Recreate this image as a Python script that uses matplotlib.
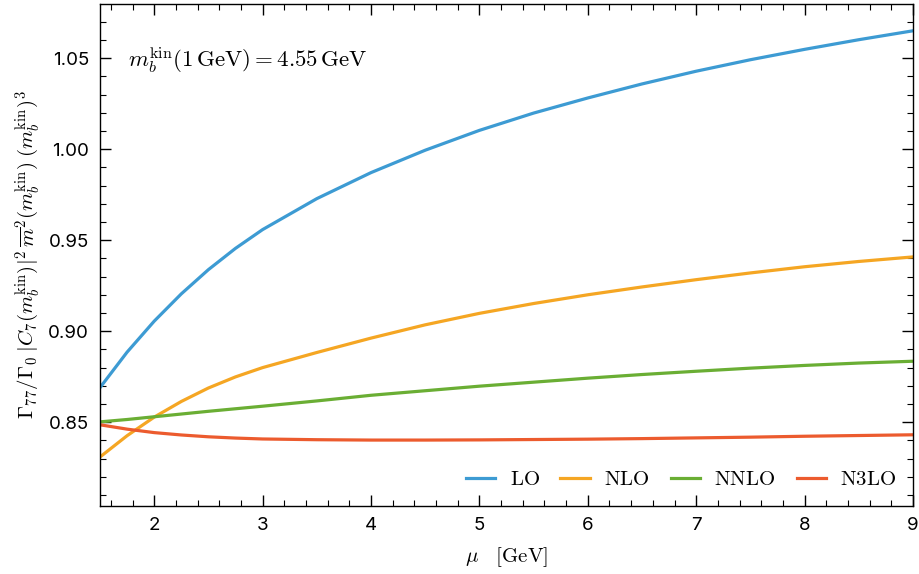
import numpy as np
import matplotlib
matplotlib.use("Agg")
import matplotlib.pyplot as plt
from matplotlib.ticker import MultipleLocator, FormatStrFormatter

plt.rcParams['font.family'] = ['Inter', 'DejaVu Sans']
plt.rcParams['mathtext.fontset'] = 'cm'

mu = [1.5, 1.75, 2.0, 2.25, 2.5, 2.75, 3.0, 3.5, 4.0, 4.5, 5.0,
      5.5, 6.0, 6.5, 7.0, 7.5, 8.0, 8.5, 9.0]
lo = [0.8690, 0.8885, 0.9055, 0.9205, 0.9338, 0.9455, 0.9558, 0.9728, 0.9871, 0.9994, 1.0103,
      1.0198, 1.0281, 1.0358, 1.0428, 1.0491, 1.0548, 1.0601, 1.0650]
nlo = [0.8309, 0.8426, 0.8528, 0.8614, 0.8688, 0.8749, 0.8800, 0.8883, 0.8962, 0.9035, 0.9098,
       0.9152, 0.9200, 0.9243, 0.9283, 0.9320, 0.9354, 0.9383, 0.9408]
nnlo = [0.8502, 0.8515, 0.853, 0.8545, 0.856, 0.8574, 0.8588, 0.8617, 0.8648, 0.8673, 0.8698,
        0.872, 0.8742, 0.8762, 0.878, 0.8797, 0.8812, 0.8825, 0.8835]
n3lo = [0.8486, 0.8462, 0.8443, 0.8430, 0.8420, 0.8413, 0.8408, 0.8404, 0.8402, 0.8402, 0.8403,
        0.8405, 0.8407, 0.8410, 0.8414, 0.8418, 0.8423, 0.8427, 0.8431]

series = [("LO", lo, "#3d9bd3"), ("NLO", nlo, "#f5a623"),
          ("NNLO", nnlo, "#6aae34"), ("N3LO", n3lo, "#ec5b2e")]

fig = plt.figure(figsize=(9.19, 5.74), dpi=100)
ax = fig.add_axes([0.1088, 0.1185, 0.8847, 0.8745])

for name, vals, col in series:
    ax.plot(mu, vals, color=col, lw=2.3, label=r'$\mathrm{' + name + '}$',
            solid_joinstyle='round')

ax.set_xlim(1.5, 9)
ax.set_ylim(0.804, 1.0797)
ax.xaxis.set_major_locator(MultipleLocator(1))
ax.xaxis.set_minor_locator(MultipleLocator(0.2))
ax.yaxis.set_major_locator(MultipleLocator(0.05))
ax.yaxis.set_minor_locator(MultipleLocator(0.01))
ax.yaxis.set_major_formatter(FormatStrFormatter('%.2f'))
ax.tick_params(which='both', direction='in', top=True, right=True, labelsize=13.5, pad=8)
ax.tick_params(which='major', length=8, width=1.0)
ax.tick_params(which='minor', length=4, width=0.8)
for s in ax.spines.values():
    s.set_linewidth(1.0)

ax.set_xlabel(r'$\mu\quad[\mathrm{GeV}]$', fontsize=15, labelpad=8)
ax.set_ylabel(r'$\Gamma_{77}/\Gamma_0\;|C_7(m_b^{\rm kin})|^2\,\overline{m}^2(m_b^{\rm kin})\;(m_b^{\rm kin})^3$',
              fontsize=15, labelpad=4)
ax.text(0.034, 0.888, r'$m_b^{\rm kin}(1\,\mathrm{GeV}) = 4.55\,\mathrm{GeV}$',
        transform=ax.transAxes, fontsize=16.5, va='center')

ax.legend(loc='lower right', ncol=4, frameon=False, fontsize=15,
          handlelength=1.4, handletextpad=0.7, columnspacing=1.0, borderaxespad=0.4)

fig.savefig("out.png", dpi=100)
